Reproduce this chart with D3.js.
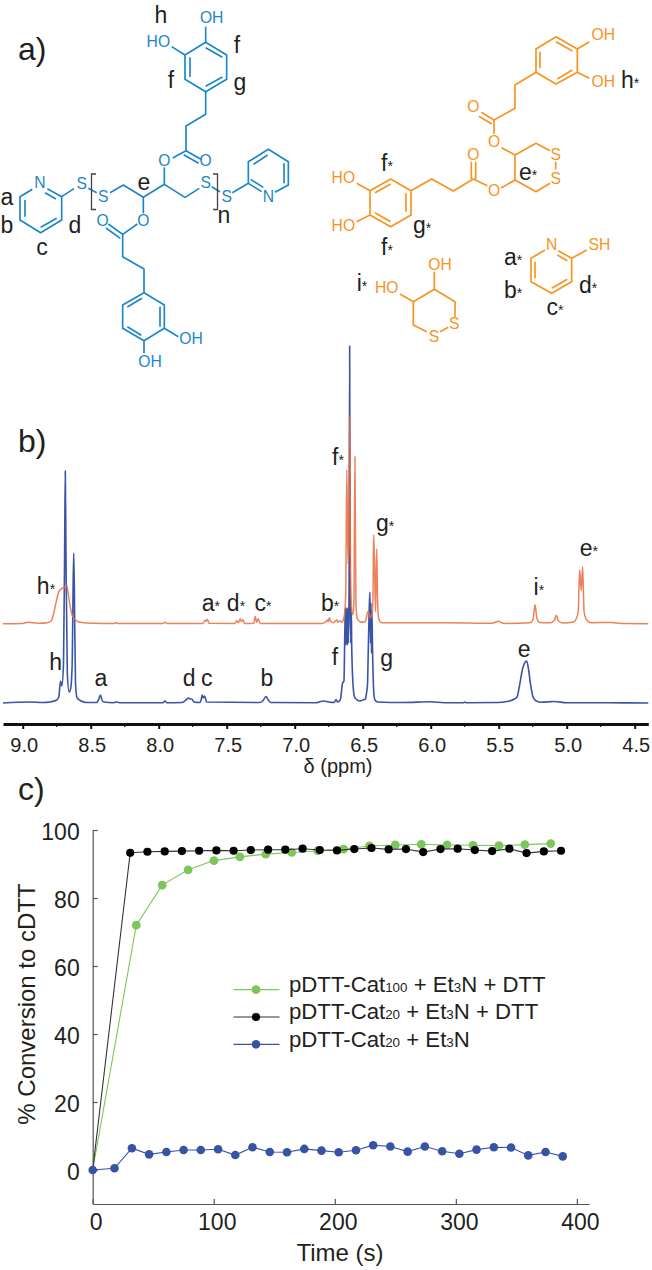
<!DOCTYPE html>
<html>
<head>
<meta charset="utf-8">
<script src="https://cdn.jsdelivr.net/npm/d3@7"></script>
<style>
    html, body { margin: 0; padding: 0; background: #fff; }
    svg { display: block; }
    text { font-family: "Liberation Sans", Arial, sans-serif; fill: #231f20; }
</style>
</head>
<body>
<div id="chart"></div>
<script>
// ---- panel b: NMR traces, [ppm, intensity] ----
const blueSpectrum = [
    [9.145,0],[8.95,1],[8.85,0.5],[8.80,1],[8.75,3],[8.735,6],[8.722,22],[8.712,17],[8.700,40],[8.692,150],[8.687,232],[8.682,150],[8.672,30],[8.659,11],
    [8.648,14],[8.636,40],[8.630,110],[8.625,150],[8.620,110],[8.612,20],[8.600,5],[8.57,2],[8.53,0.5],[8.456,0.5],[8.44,4],[8.429,8],[8.417,3],[8.405,1],[8.33,0.3],[8.31,1],[8.29,0.3],
    [7.97,0.3],[7.953,2],[7.94,0.3],[7.83,0.5],[7.80,3],[7.782,5],[7.768,4],[7.757,4],[7.74,1],[7.70,0.5],[7.688,3],[7.681,8],[7.672,5],[7.662,7],[7.648,1],
    [7.26,0.5],[7.235,2],[7.211,6.5],[7.195,3],[7.175,0.5],[6.84,0.3],[6.79,2],[6.75,1],[6.71,0.5],
    [6.696,3.5],[6.686,1],[6.665,3],[6.648,20],[6.638,22],[6.628,95],[6.623,58],[6.618,95],[6.613,58],[6.609,95],[6.605,60],[6.60,120],[6.596,357],[6.592,110],[6.588,60],[6.584,95],[6.581,58],
    [6.578,40],[6.572,20],[6.56,6],[6.54,3],[6.52,2],[6.49,3.5],[6.48,4],[6.472,10],[6.465,18],[6.458,60],[6.452,95],[6.447,111],[6.443,60],[6.439,100],[6.436,50],[6.432,92],[6.428,55],[6.424,30],[6.418,10],[6.41,3],[6.39,1],
    [6.20,0.5],[6.0,1.2],[5.90,0.3],[5.76,0.3],[5.75,1],[5.74,0.3],[5.50,0.5],[5.42,2],[5.385,4],[5.365,6],[5.345,19],[5.325,34],[5.305,41],[5.294,42],[5.28,33],[5.265,18],[5.25,7],[5.23,2.5],[5.19,0.8],
    [5.09,1.5],[5.0,0.3],[4.7,0.2],[4.4,0]
];
const orangeSpectrum = [
    [9.145,0],[9.0,0.3],[8.96,1.5],[8.93,1],[8.88,0.5],[8.82,1],[8.79,3],[8.775,9],[8.76,18],[8.745,27],[8.73,33],[8.715,35],[8.70,36],[8.676,38],[8.665,30],[8.652,18],[8.64,10],[8.615,4],[8.578,1.5],[8.48,0.5],[8.33,0.3],[8.32,1],[8.30,0.3],
    [7.97,0.3],[7.953,1.5],[7.94,0.3],[7.675,0.3],[7.66,3.5],[7.652,2.5],[7.642,4.5],[7.63,0.5],[7.44,0.3],[7.427,3],[7.415,1],[7.40,5],[7.392,2],[7.38,4],[7.37,0.3],
    [7.30,0.5],[7.29,7.5],[7.28,1.5],[7.267,5],[7.255,0.3],[6.80,0.3],[6.78,1],[6.76,3.6],[6.753,2],[6.746,6],[6.734,2],[6.715,1],[6.69,4],[6.683,1.5],[6.667,3],[6.655,1.5],[6.645,3],[6.635,8],
    [6.625,30],[6.617,154],[6.608,60],[6.602,80],[6.596,208],[6.59,60],[6.58,12],[6.572,9],[6.565,20],[6.557,167],[6.55,20],[6.54,5],[6.52,2],[6.49,1.5],
    [6.478,3],[6.463,12],[6.452,10],[6.444,6],[6.43,11],[6.424,30],[6.42,89],[6.413,60],[6.406,12],[6.402,40],[6.397,75],[6.39,20],[6.382,5],[6.36,1],
    [5.88,1],[5.55,0.4],[5.50,2.5],[5.485,1.5],[5.46,0.3],[5.27,1],[5.248,4],[5.233,19],[5.22,6],[5.20,1.2],[5.12,1],[5.09,3.5],[5.077,8.5],[5.062,3],[5.03,0.8],
    [4.945,2],[4.93,5],[4.915,12],[4.905,54],[4.893,33],[4.883,57],[4.872,12],[4.855,4],[4.82,1],[4.67,1.2],[4.6,0.2],[4.4,0]
];
const deltaTicks = [9, 8.5, 8, 7.5, 7, 6.5, 6, 5.5, 5, 4.5];
const deltaMinorTicks = [8.75, 8.25, 7.75, 7.25, 6.75, 6.25, 5.75, 5.25, 4.75];

// peak assignments: letter, ppm, height of the letter above the trace baseline
const blueLabels = [['h',8.757,41],['a',8.426,25],['d',7.777,25],['c',7.647,25],['b',7.204,25],['f',6.704,46],['g',6.324,45],['e',5.312,54]];
const orangeLabels = [['h',8.829,38],['a',7.616,21],['d',7.432,21],['c',7.234,21],['b',6.74,21],['f',6.682,167],['g',6.336,101],['i',5.205,37],['e',4.837,76]];

// ---- panel c: conversion vs time ----
const greenTime = [0,36,57.4,78.8,100.2,121.6,143,164.4,185.8,207.2,228.6,250,271.4,292.8,314.2,335.6,357,378.4];
const greenValues = [0,72,83.8,88.3,91,92.1,92.9,93.4,93.9,94.4,95.3,95.6,95.8,95.6,95.5,95.4,95.7,96];
const blackTime = [0,31,45.2,59.5,73.7,87.9,102.2,116.4,130.6,144.9,159.1,173.4,187.6,201.8,216.1,230.3,244.5,258.8,273,287.3,301.5,315.7,330,344.2,358.4,372.7,386.9];
const blackValues = [0,93.3,93.6,93.7,93.8,93.9,94,93.9,94.1,94.2,94.2,94.5,94.1,94,94.4,94.7,94.3,94.4,93.5,94.4,94.5,94.1,93.8,94.5,93.2,93.7,93.9];
const blueTime = [0,18,32.4,46.6,60.9,75.1,89.3,103.6,117.8,132,146.3,160.5,174.8,189,203.2,217.5,231.7,245.9,260.2,274.4,288.7,302.9,317.1,331.4,345.6,359.8,374.1,388.3];
const blueValues = [0,0.5,6.4,4.6,5.3,5.9,5.9,6.1,4.4,6.7,5.3,5.2,6.2,5.7,5.2,5.8,7.3,6.9,5.4,6.9,5.5,4.8,6,6.7,6.6,4.3,5.3,4];

const legendNames = [
    [['pDTT-Cat',0],['100',1],[' + Et',0],['3',1],['N + DTT',0]],
    [['pDTT-Cat',0],['20',1],[' + Et',0],['3',1],['N + DTT',0]],
    [['pDTT-Cat',0],['20',1],[' + Et',0],['3',1],['N',0]]
];
const timeTicks = [0, 100, 200, 300, 400];
const conversionTicks = [0, 20, 40, 60, 80, 100];

const structBlue = '#1b86c9', structOrange = '#f7931e';
const traceBlue = '#3a54a8', traceOrange = '#ea6b3d';
const dotGreen = '#7cc65c', dotBlack = '#000000', dotBlue = '#3953a4';
const axisGrey = '#555555';

let svg = d3.select('#chart').append('svg').attr('width', 652).attr('height', 1270);

// panel letters
[['a)', 60], ['b)', 452], ['c)', 800]].forEach(d => {
    svg.append('text').attr('x', 18).attr('y', d[1]).attr('font-size', 32).text(d[0]);
});

// ---- a) structures, traced in a 3x grid ----
function drawMolecule(offsetX, colour, paths, atoms) {
    let g = svg.append('g').attr('transform', `translate(${offsetX},0) scale(${1 / 3})`);
    g.selectAll('path').data(paths).enter().append('path')
        .attr('d', d3.line())
        .attr('fill', 'none')
        .attr('stroke', colour)
        .attr('stroke-width', 5)
        .attr('stroke-linejoin', 'round');
    g.selectAll('text').data(atoms).enter().append('text')
        .attr('x', d => d[1]).attr('y', d => d[2]).attr('dy', '.36em')
        .attr('text-anchor', 'middle')
        .attr('font-size', 47)
        .style('fill', colour)
        .text(d => d[0]);
}

drawMolecule(0, structBlue, [
    // top catechol
    [[617,127],[680,165],[680,238],[617,275],[555,238],[555,165],[617,127]],
    [[617,143],[667,172]], [[667,231],[617,259]], [[570,172],[570,231]],
    [[617,127],[617,80]], [[555,165],[515,140]],
    // chain to ester
    [[617,275],[617,343],[558,378],[558,452],[603,478]], [[551,464],[596,490]],
    [[558,452],[518,474]], [[493,502],[493,553]],
    // backbone
    [[598,565],[555,592],[493,553],[430,592],[370,555],[330,578]],
    [[430,592],[430,640]],
    [[412,672],[368,703],[325,672]], [[361,715],[318,684]],
    [[368,703],[368,770],[432,807],[432,878]],
    // bottom catechol
    [[432,878],[493,915],[493,985],[432,1022],[368,985],[368,915],[432,878]],
    [[426,895],[382,921]], [[480,920],[480,980]], [[424,1006],[382,980]],
    [[493,985],[535,1010]], [[432,1022],[432,1060]],
    // left pyridine
    [[97,568],[60,590],[60,660],[122,698],[185,660],[185,590],[142,566]],
    [[75,600],[75,650]], [[122,682],[170,655]], [[135,578],[168,597]],
    [[185,590],[222,566]], [[265,565],[290,578]],
    // right pyridine
    [[635,560],[660,575]], [[697,578],[745,550],[745,485],[805,448],[865,485],[865,555],[825,577]],
    [[745,550],[785,575]], [[752,538],[790,562]], [[760,493],[803,465]], [[852,490],[852,550]]
], [
    ['OH',635,52], ['HO',475,125], ['O',617,481], ['O',493,480], ['S',617,548], ['S',310,590],
    ['S',245,550], ['N',120,548], ['S',680,590], ['N',805,590], ['O',430,660], ['O',308,660],
    ['OH',573,1015], ['OH',450,1085]
]);

// brackets of the repeat unit
svg.append('path').attr('d', 'M96,174H91.5V209.5H96').attr('fill', 'none').attr('stroke', '#444').attr('stroke-width', 1.3);
svg.append('path').attr('d', 'M213,174H217.5V209.5H213').attr('fill', 'none').attr('stroke', '#444').attr('stroke-width', 1.3);

drawMolecule(320, structOrange, [
    [[708,110],[772,147],[772,217],[708,252],[648,217],[648,147],[708,110]],
    [[708,125],[757,153]], [[757,210],[712,237]], [[660,205],[660,155]],
    [[772,147],[808,125]], [[772,217],[808,235]],
    [[648,217],[585,255],[585,325],[522,360],[484,337]], [[515,372],[477,349]],
    [[522,360],[522,402]], [[545,443],[585,465]],
    [[690,452],[648,430],[585,465],[585,540],[648,575],[690,550]],
    [[707,485],[707,508]],
    [[585,540],[543,564]], [[502,557],[460,537],[400,573],[335,537],[273,572],[273,645],[212,680],[150,645],[150,572],[212,537],[273,572]],
    [[454,537],[454,485]], [[467,537],[467,485]],
    [[212,552],[165,578]], [[165,638],[212,665]], [[258,580],[258,635]],
    [[150,572],[110,550]], [[150,645],[110,665]],
    // pyridine-2-thiol
    [[675,750],[633,775],[633,845],[695,880],[755,845],[755,775],[715,752]],
    [[712,765],[742,782]], [[645,785],[645,835]], [[695,865],[742,838]], [[755,775],[800,750]],
    // cyclic DTT
    [[343,815],[343,868],[405,905],[405,950]], [[385,982],[360,995]],
    [[320,995],[280,975],[280,905],[343,868]], [[280,905],[240,882]]
], [
    ['OH',850,103], ['OH',850,245], ['O',460,320], ['O',522,423], ['S',707,463], ['S',707,535],
    ['O',522,570], ['O',460,462], ['HO',70,532], ['HO',70,675], ['N',695,733], ['SH',838,733],
    ['OH',360,792], ['HO',200,862], ['S',403,970], ['S',342,1008]
]);

// assignment letters, starred ones get a small asterisk
function addLetter(name, starred, x, y) {
    let t = svg.append('text').attr('x', x).attr('y', y).attr('dy', '.36em')
        .attr('text-anchor', 'middle').attr('font-size', 23).text(name);
    if (starred) t.append('tspan').attr('font-size', 14).text('*');
}
const structureLabels = [
    ['h',161,15,0],['f',237,45,0],['f',171,80,0],['g',240,82,0],['a',7,197,0],['b',7,225,0],['c',42,247,0],['d',75,225,0],['e',144,182,0],['n',224,215,0],
    ['f',387,163,1],['g',422,225,1],['f',387,247,1],['h',630,80,1],['e',528,172,1],['a',513,257,1],['b',513,290,1],['c',555,307,1],['d',588,285,1],['i',362,283,1]
];
structureLabels.forEach(d => addLetter(d[0], d[3], d[1], d[2]));

// ---- b) spectra ----
let xDelta = d3.scaleLinear().domain([9.145, 4.4]).range([3, 648.3]);
let yBlueTrace = d3.scaleLinear().domain([0, 357]).range([703, 346]);
let yOrangeTrace = d3.scaleLinear().domain([0, 208]).range([623.7, 415.7]);

let blueLine = d3.line().x(d => xDelta(d[0])).y(d => yBlueTrace(d[1])).curve(d3.curveMonotoneX);
let orangeLine = d3.line().x(d => xDelta(d[0])).y(d => yOrangeTrace(d[1])).curve(d3.curveMonotoneX);

svg.append('path').datum(blueSpectrum).attr('d', blueLine)
    .attr('fill', 'none').attr('stroke', traceBlue).attr('stroke-width', 1.6);
svg.append('path').datum(orangeSpectrum).attr('d', orangeLine)
    .attr('fill', 'none').attr('stroke', traceOrange).attr('stroke-width', 1.5).attr('stroke-opacity', 0.85);

blueLabels.forEach(d => addLetter(d[0], false, xDelta(d[1]), yBlueTrace(d[2])));
orangeLabels.forEach(d => addLetter(d[0], true, xDelta(d[1]), yOrangeTrace(d[2])));

// ppm axis: thick line with short major and minor ticks
let deltaAxis = svg.append('g').attr('transform', 'translate(0,724)')
    .call(d3.axisBottom(xDelta).tickValues(deltaTicks).tickFormat(d3.format('.1f')).tickSize(5).tickSizeOuter(0).tickPadding(9));
deltaAxis.select('.domain').attr('stroke', '#111').attr('stroke-width', 3.2);
deltaAxis.selectAll('.tick line').attr('stroke', '#111').attr('stroke-width', 2);
deltaAxis.selectAll('.tick text').attr('font-size', 20).attr('font-family', null).attr('dx', 1);
deltaAxis.selectAll('.minor').data(deltaMinorTicks).enter().append('line')
    .attr('class', 'minor')
    .attr('x1', d => xDelta(d)).attr('x2', d => xDelta(d))
    .attr('y1', 0).attr('y2', 3)
    .attr('stroke', '#111').attr('stroke-width', 1.2);

svg.append('text').attr('x', 338).attr('y', 773).attr('text-anchor', 'middle').attr('font-size', 20).text('δ (ppm)');

// ---- c) conversion plot ----
let xTime = d3.scaleLinear().domain([0, 410]).range([92.7, 589]);
let yConversion = d3.scaleLinear().domain([-10, 100]).range([1204, 830]);

let timeAxis = svg.append('g').attr('transform', 'translate(0,1204)')
    .call(d3.axisBottom(xTime).tickValues(timeTicks).tickSize(-5).tickSizeOuter(0).tickPadding(10));
let conversionAxis = svg.append('g').attr('transform', 'translate(92.7,0)')
    .call(d3.axisLeft(yConversion).tickValues(conversionTicks).tickSize(-5).tickSizeOuter(0).tickPadding(13));
[timeAxis, conversionAxis].forEach(a => {
    a.select('.domain').attr('stroke', axisGrey).attr('stroke-width', 1.2);
    a.selectAll('.tick line').attr('stroke', axisGrey).attr('stroke-width', 1.2);
    a.selectAll('.tick text').attr('font-size', 23).attr('font-family', null);
});
timeAxis.selectAll('.tick text').attr('dx', 3);
conversionAxis.selectAll('.tick text').attr('dy', '.41em');

let series = [
    {time: greenTime, values: greenValues, colour: dotGreen, line: dotGreen, r: 4.4, skip: 1},
    {time: blackTime, values: blackValues, colour: dotBlack, line: '#333333', r: 4.1, skip: 1},
    {time: blueTime, values: blueValues, colour: dotBlue, line: dotBlue, r: 4.3, skip: 0}
];

let conversionLine = d3.line().x(d => xTime(d[0])).y(d => yConversion(d[1]));

series.forEach(s => {
    let points = s.time.map((t, i) => [t, s.values[i]]);
    svg.append('path').datum(points).attr('d', conversionLine)
        .attr('fill', 'none').attr('stroke', s.line).attr('stroke-width', 1.1);
    svg.append('g').selectAll('circle').data(points.slice(s.skip)).enter().append('circle')
        .attr('cx', d => xTime(d[0]))
        .attr('cy', d => yConversion(d[1]))
        .attr('r', s.r)
        .attr('fill', s.colour);
});

svg.append('text').attr('x', 340).attr('y', 1261).attr('text-anchor', 'middle').attr('font-size', 24).text('Time (s)');
svg.append('text').attr('transform', 'translate(35,1004) rotate(-90)').attr('text-anchor', 'middle').attr('font-size', 24).text('% Conversion to cDTT');

// legend
let legendY = d3.scaleBand().domain([0, 1, 2]).range([976, 1058]);
series.forEach((s, i) => {
    let cy = legendY(i) + legendY.bandwidth() / 2;
    svg.append('line').attr('x1', 233.5).attr('x2', 279.5).attr('y1', cy).attr('y2', cy)
        .attr('stroke', s.line).attr('stroke-width', 1.1);
    svg.append('circle').attr('cx', 256).attr('cy', cy).attr('r', s.r).attr('fill', s.colour);
    let label = svg.append('text').attr('x', 289).attr('y', cy + 2.3).attr('font-size', 22.2).style('white-space', 'pre');
    legendNames[i].forEach(part => {
        label.append('tspan').attr('font-size', part[1] ? 13.4 : 22.2).text(part[0]);
    });
});
</script>
</body>
</html>
